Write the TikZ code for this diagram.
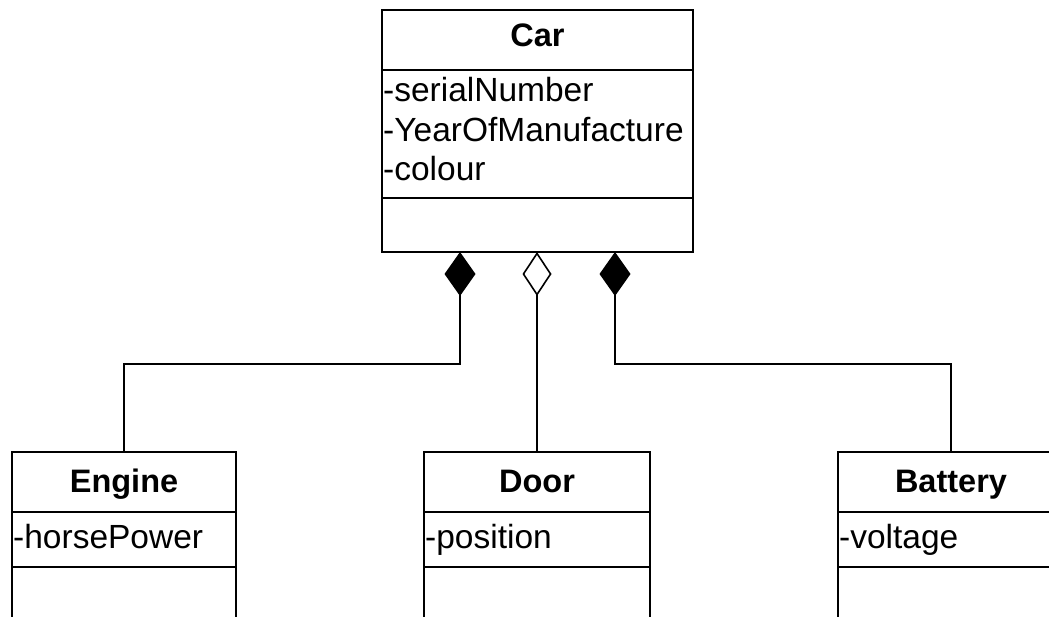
\documentclass[tikz,border=0pt]{standalone}
\usepackage{fontspec}
\setmainfont{Liberation Sans}
\usetikzlibrary{arrows.meta}
\begin{document}
\begin{tikzpicture}[x=1pt,y=-1pt,
  box/.style={draw=black, line width=1.6pt, rectangle, inner sep=0pt, outer sep=0pt},
  ttl/.style={font=\fontsize{32.5}{38}\selectfont\bfseries, anchor=base, inner sep=0pt},
  attr/.style={font=\fontsize{33.5}{40}\selectfont, anchor=base west, inner sep=0pt},
  sep/.style={line width=1.6pt},
  comp/.style={line width=1.6pt, {Diamond[length=44pt,width=31pt]}-},
  aggr/.style={line width=1.6pt, {Diamond[open,fill=white,length=44pt,width=29pt]}-}
]
\useasboundingbox (0,0) rectangle (1049,617);
\clip (0,0) rectangle (1049,617);
\fill[white] (0,0) rectangle (1049,617);

% Car
\node[box, minimum width=311pt, minimum height=242pt] (car) at (537.5,131) {};
\draw[sep] ([yshift=-60pt]car.north west) -- ([yshift=-60pt]car.north east);
\draw[sep] ([yshift=-188pt]car.north west) -- ([yshift=-188pt]car.north east);
\node[ttl] (cart) at (537.5,47) {Car};
\node[attr] (cara1) at (383,102) {-serialNumber};
\node[attr] (cara2) at (383,142) {-YearOfManufacture};
\node[attr] (cara3) at (383,181) {-colour};

% Engine
\node[box, minimum width=224pt, minimum height=250pt] (eng) at (124,577) {};
\draw[sep] ([yshift=-60pt]eng.north west) -- ([yshift=-60pt]eng.north east);
\draw[sep] ([yshift=-115pt]eng.north west) -- ([yshift=-115pt]eng.north east);
\node[ttl] (engt) at (124,492) {Engine};
\node[attr] (enga1) at (13,548) {-horsePower};

% Door
\node[box, minimum width=226pt, minimum height=250pt] (door) at (537,577) {};
\draw[sep] ([yshift=-60pt]door.north west) -- ([yshift=-60pt]door.north east);
\draw[sep] ([yshift=-115pt]door.north west) -- ([yshift=-115pt]door.north east);
\node[ttl] (doort) at (537,492) {Door};
\node[attr] (doora1) at (425,548) {-position};

% Battery
\node[box, minimum width=226pt, minimum height=250pt] (bat) at (951,577) {};
\draw[sep] ([yshift=-60pt]bat.north west) -- ([yshift=-60pt]bat.north east);
\draw[sep] ([yshift=-115pt]bat.north west) -- ([yshift=-115pt]bat.north east);
\node[ttl] (batt) at (951,492) {Battery};
\node[attr] (bata1) at (839,548) {-voltage};

% Connectors
\draw[comp] ([xshift=-77.5pt]car.south) -- ++(0,112) -| (eng.north);
\draw[aggr] (car.south -| door.north) -- (door.north);
\draw[comp] ([xshift=77.5pt]car.south) -- ++(0,112) -| (bat.north);
\end{tikzpicture}
\end{document}
